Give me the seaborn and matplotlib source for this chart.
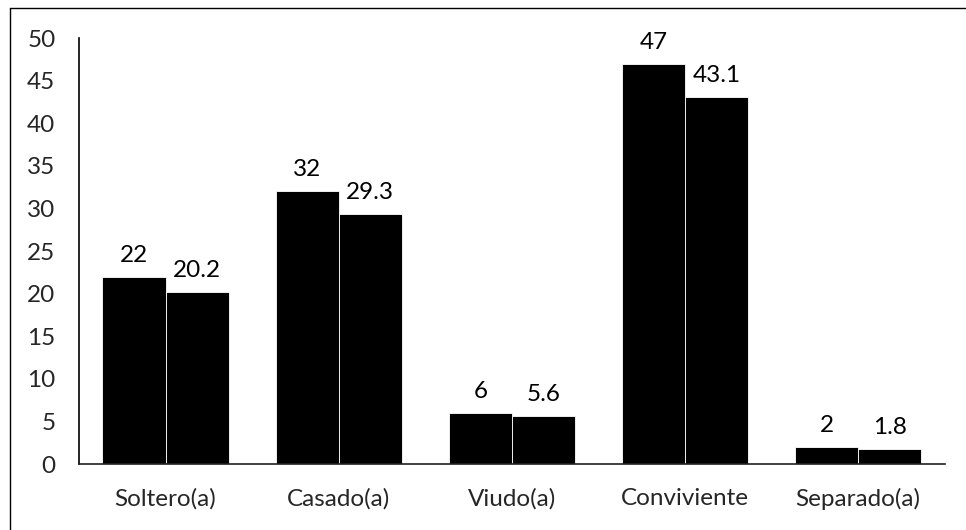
import matplotlib
matplotlib.use("Agg")
import matplotlib.pyplot as plt
from matplotlib.lines import Line2D
import seaborn as sns
import pandas as pd

categorias = ["Soltero(a)", "Casado(a)", "Viudo(a)", "Conviviente", "Separado(a)"]
frecuencia = [22, 32, 6, 47, 2]
porcentaje = [20.2, 29.3, 5.6, 43.1, 1.8]
yticks = [0, 5, 10, 15, 20, 25, 30, 35, 40, 45, 50]

df = pd.DataFrame({
    "categoria": categorias * 2,
    "valor": frecuencia + porcentaje,
    "serie": ["n"] * len(categorias) + ["%"] * len(categorias),
})

sns.set_theme(style="white")
plt.rcParams["font.family"] = ["Lato", "DejaVu Sans"]

fig = plt.figure(figsize=(9.66, 5.30), dpi=100)
ax = fig.add_axes([0.0818, 0.1245, 0.978 - 0.0818, 0.928 - 0.1245])

sns.barplot(data=df, x="categoria", y="valor", hue="serie",
            palette=["#000000", "#000000"], width=0.73, gap=0.0,
            edgecolor="white", linewidth=0.6, legend=False, ax=ax)

for cont in ax.containers:
    ax.bar_label(cont, labels=[f"{v:g}" for v in cont.datavalues],
                 padding=8, fontsize=17.5, color="black")

ax.set_ylim(0, 50)
ax.set_yticks(yticks)
ax.set_yticklabels([str(t) for t in yticks], fontsize=17.5)
ax.tick_params(axis="y", length=0, pad=17)
ax.tick_params(axis="x", length=0, pad=17, labelsize=17.5)
ax.set_xlabel("")
ax.set_ylabel("")
ax.set_xlim(-0.5, 4.5)

for s in ["top", "right"]:
    ax.spines[s].set_visible(False)
ax.spines["left"].set_color("black")
ax.spines["left"].set_linewidth(1.2)
ax.spines["bottom"].set_color("#222222")
ax.spines["bottom"].set_linewidth(1.2)

# frame lines along the left and top edges of the figure
x0, y0 = 10 / 966, 1 - 8 / 530
fig.add_artist(Line2D([x0, x0], [0, y0], transform=fig.transFigure,
                      color="black", linewidth=1.0))
fig.add_artist(Line2D([x0, 1], [y0, y0], transform=fig.transFigure,
                      color="black", linewidth=1.0))

fig.savefig("out.png", dpi=100)
